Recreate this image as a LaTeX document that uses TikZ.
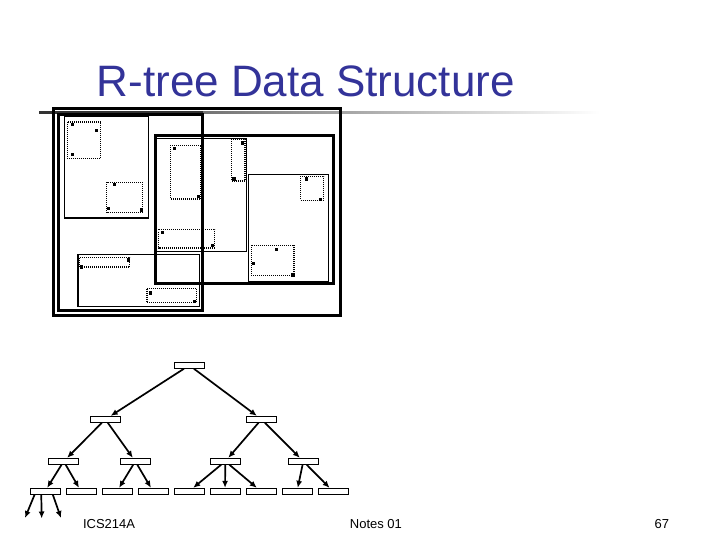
\documentclass[tikz,border=0pt]{standalone}
\usepackage{fontspec}
\setmainfont{Liberation Sans}
\usetikzlibrary{arrows.meta}
\definecolor{titleblue}{RGB}{51,51,153}

\begin{document}
\begin{tikzpicture}
  [x=1pt,y=-1pt,
   treebox/.style={rectangle,draw,line width=0.9pt,minimum width=30pt,minimum height=6pt,inner sep=0pt},
   link/.style={line width=1.7pt,-{Latex[length=7pt,width=6pt]}},
   bigmbr/.style={draw,line width=3pt},
   mbr/.style={draw,line width=1.1pt},
   leafmbr/.style={draw,line width=1.1pt,dash pattern=on 1pt off 1pt}]
  \useasboundingbox (0,0) rectangle (720,540);

  % title and rule
  \node[anchor=base west,inner sep=0pt,text=titleblue,font=\fontsize{44}{50}\selectfont] (title) at (96.5,97) {R-tree Data Structure};
  \fill[black!80] (39,111.5) rectangle (203,114);
  \shade[left color=black!55,right color=white] (203,111.5) rectangle (600,114);

  % rectangles of the R-tree
  \draw[bigmbr] (53.3,108.7) rectangle (340,315);
  \draw[bigmbr] (58.7,114.7) rectangle (202,310.7);
  \draw[bigmbr] (155.3,135.5) rectangle (333.2,283.8);

  \draw[mbr] (64.5,116.5) rectangle (148.5,218);
  \draw[mbr] (78,254.5) rectangle (199.5,306.5);
  \draw[mbr] (156.5,138.5) rectangle (246.5,251.5);
  \draw[mbr] (248.5,174.5) rectangle (328.5,282);

  \foreach \xa/\ya/\xb/\yb in {67.3/122/100.5/158.5, 106.5/182.3/142.5/212.5,
      170.5/145.5/201/199, 231.3/139.5/245/181, 158.5/229.5/214.5/248,
      300.5/176.5/323.5/200.5, 251.3/245.3/294/275.5,
      79.5/257.5/129.5/267, 147/288.5/196.5/302.5}
    \draw[leafmbr] (\xa,\ya) rectangle (\xb,\yb);

  % data points
  \foreach \x/\y in {72.5/124.5, 96.5/130.5, 72.5/154.5, 114.5/184.5, 108.5/208.5, 141.5/210,
      174.5/148.5, 198.5/196.5, 242.5/143, 234/179, 162.5/232.5, 212.5/245.5,
      306.5/179, 320.5/199.5, 276.5/249.5, 253.5/263.5, 293/275,
      128.5/260, 81.5/267, 150.5/293, 194.5/301.5}
    \fill (\x-1.8,\y-1.8) rectangle ++(3.6,3.6);

  % the tree
  \node[treebox] (r) at (189.3,365.3) {};
  \node[treebox] (a) at (105.3,419.3) {};
  \node[treebox] (b) at (261.5,419.3) {};
  \node[treebox] (c) at (63.7,461.3)  {};
  \node[treebox] (d) at (135.3,461.3) {};
  \node[treebox] (e) at (225.3,461.3) {};
  \node[treebox] (f) at (303.3,461.3) {};
  \node[treebox] (g) at (45,491.3)  {};
  \node[treebox] (h) at (81,491.3)  {};
  \node[treebox] (i) at (117,491.3) {};
  \node[treebox] (j) at (153,491.3) {};
  \node[treebox] (k) at (189,491.3) {};
  \node[treebox] (l) at (225,491.3) {};
  \node[treebox] (m) at (261,491.3) {};
  \node[treebox] (n) at (297,491.3) {};
  \node[treebox] (o) at (333,491.3) {};

  \foreach \from/\to in {r/a, r/b, a/c, a/d, b/e, b/f, c/g, c/h, d/i, d/j, e/k, e/l, e/m, f/n, f/o}
    \draw[link] (\from) -- (\to);

  \coordinate (g1) at (25,518);
  \coordinate (g2) at (41.7,518.5);
  \coordinate (g3) at (61,518);
  \draw[link] ([xshift=5pt]g.south west) -- (g1);
  \draw[link] ([xshift=11.7pt]g.south west) -- (g2);
  \draw[link] ([xshift=23.3pt]g.south west) -- (g3);

  % footer
  \node[anchor=base west,inner sep=0pt,font=\fontsize{13}{15}\selectfont] (course) at (82.8,528) {ICS214A};
  \node[anchor=base west,inner sep=0pt,font=\fontsize{13}{15}\selectfont] (notes) at (349.7,528) {Notes 01};
  \node[anchor=base west,inner sep=0pt,font=\fontsize{13}{15}\selectfont] (page) at (654.5,528) {67};
\end{tikzpicture}
\end{document}
